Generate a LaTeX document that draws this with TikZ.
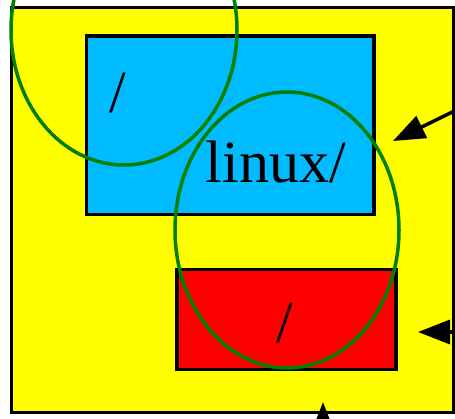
\documentclass[tikz,border=0pt]{standalone}
\usepackage{fontspec}
\setmainfont{Liberation Serif}
\usepackage{xcolor}
\usetikzlibrary{arrows.meta}

\definecolor{fsyellow}{RGB}{255,255,0}
\definecolor{fsblue}{RGB}{0,187,255}
\definecolor{fsred}{RGB}{255,0,0}
\definecolor{fsgreen}{RGB}{0,128,0}

\begin{document}
\begin{tikzpicture}[x=1pt, y=-1pt, font=\fontsize{60}{60}\selectfont,
    box/.style={draw=black, line width=3.5pt},
    ring/.style={draw=fsgreen, line width=3.5pt},
    pointer/.style={draw=black, line width=3.5pt, -{Triangle[length=32pt, width=24pt]}}]
  \useasboundingbox (0,0) rectangle (455,418);
  \clip (0,0) rectangle (455,418);

  % Outer tree and the two mounted trees.
  \draw[box, fill=fsyellow] (11.5,7.5) rectangle (453.5,412.5);
  \draw[box, fill=fsblue] (86.5,36) rectangle (374,214.5);
  \draw[box, fill=fsred] (177,269.5) rectangle (396,369.5);

  \node[anchor=base, inner sep=0pt] (rootslash) at (118,112) {/};
  \node[anchor=base, inner sep=0pt] (linux) at (276,182) {linux/};
  \node[anchor=base, inner sep=0pt] (mntslash) at (285,342) {/};

  % Namespaces.
  \draw[ring] (124,30) ellipse (113pt and 135pt);
  \draw[ring] (287,230) ellipse (112pt and 138pt);

  % Pointers coming in from outside.
  \coordinate (from1) at (479,99);
  \coordinate (to1) at (393,141);
  \coordinate (from2) at (480,332);
  \coordinate (to2) at (418,332);
  \coordinate (from3) at (323,450);
  \coordinate (to3) at (323,402);
  \draw[pointer] (from1) -- (to1);
  \draw[pointer] (from2) -- (to2);
  \draw[pointer] (from3) -- (to3);
\end{tikzpicture}
\end{document}
